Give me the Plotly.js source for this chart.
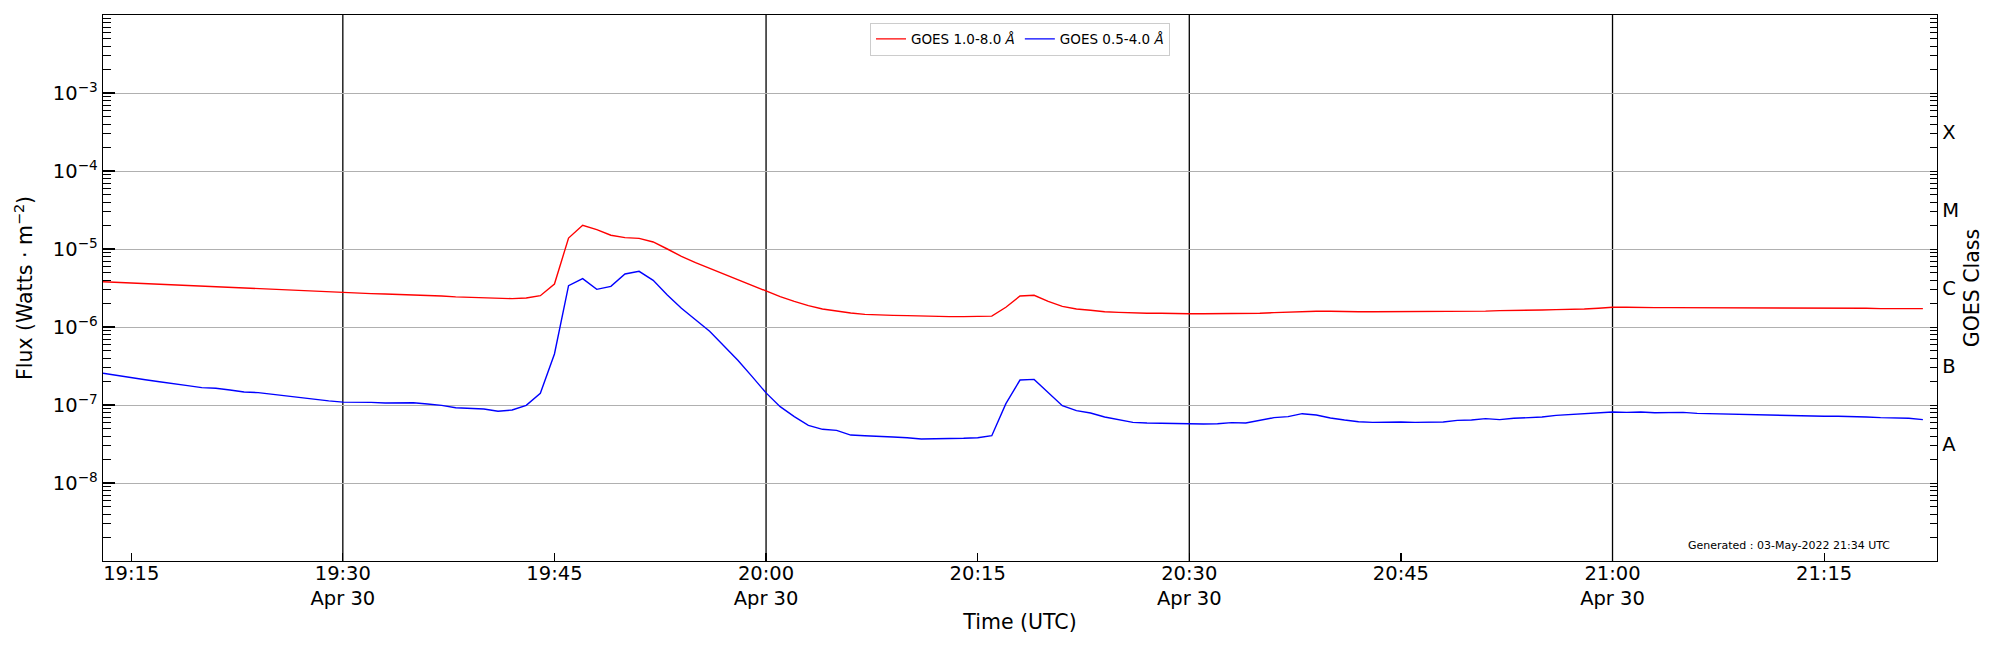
<!DOCTYPE html>
<html>
<head>
<meta charset="utf-8">
<script src="https://cdn.plot.ly/plotly-3.0.1.min.js"></script>
<style>
  html, body { margin: 0; padding: 0; background: #ffffff; }
  #chart { width: 2000px; height: 650px; }
</style>
</head>
<body>
<div id="chart"></div>
<script>
'use strict';

const DAY = '2022-04-30 ';

// 1-minute samples, 19:13 .. 21:22 UTC
const times = [
  '19:13', '19:14', '19:15', '19:16', '19:17', '19:18', '19:19', '19:20', '19:21', '19:22',
  '19:23', '19:24', '19:25', '19:26', '19:27', '19:28', '19:29', '19:30', '19:31', '19:32',
  '19:33', '19:34', '19:35', '19:36', '19:37', '19:38', '19:39', '19:40', '19:41', '19:42',
  '19:43', '19:44', '19:45', '19:46', '19:47', '19:48', '19:49', '19:50', '19:51', '19:52',
  '19:53', '19:54', '19:55', '19:56', '19:57', '19:58', '19:59', '20:00', '20:01', '20:02',
  '20:03', '20:04', '20:05', '20:06', '20:07', '20:08', '20:09', '20:10', '20:11', '20:12',
  '20:13', '20:14', '20:15', '20:16', '20:17', '20:18', '20:19', '20:20', '20:21', '20:22',
  '20:23', '20:24', '20:25', '20:26', '20:27', '20:28', '20:29', '20:30', '20:31', '20:32',
  '20:33', '20:34', '20:35', '20:36', '20:37', '20:38', '20:39', '20:40', '20:41', '20:42',
  '20:43', '20:44', '20:45', '20:46', '20:47', '20:48', '20:49', '20:50', '20:51', '20:52',
  '20:53', '20:54', '20:55', '20:56', '20:57', '20:58', '20:59', '21:00', '21:01', '21:02',
  '21:03', '21:04', '21:05', '21:06', '21:07', '21:08', '21:09', '21:10', '21:11', '21:12',
  '21:13', '21:14', '21:15', '21:16', '21:17', '21:18', '21:19', '21:20', '21:21', '21:22'
];

// GOES 1.0-8.0 A channel (W m^-2)
const fluxLong = [
  3.81e-6, 3.74e-6, 3.67e-6, 3.59e-6, 3.52e-6, 3.46e-6, 3.39e-6, 3.32e-6, 3.26e-6, 3.19e-6,
  3.13e-6, 3.07e-6, 3.01e-6, 2.95e-6, 2.89e-6, 2.84e-6, 2.78e-6, 2.73e-6, 2.70e-6, 2.68e-6,
  2.65e-6, 2.62e-6, 2.60e-6, 2.55e-6, 2.50e-6, 2.43e-6, 2.40e-6, 2.35e-6, 2.31e-6, 2.31e-6,
  2.35e-6, 2.52e-6, 3.56e-6, 1.38e-5, 2.01e-5, 1.77e-5, 1.50e-5, 1.40e-5, 1.37e-5, 1.23e-5,
  1.00e-5, 8.05e-6, 6.68e-6, 5.65e-6, 4.73e-6, 3.97e-6, 3.35e-6, 2.84e-6, 2.45e-6, 2.13e-6,
  1.88e-6, 1.70e-6, 1.59e-6, 1.51e-6, 1.45e-6, 1.42e-6, 1.41e-6, 1.40e-6, 1.38e-6, 1.37e-6,
  1.36e-6, 1.36e-6, 1.36e-6, 1.38e-6, 1.79e-6, 2.50e-6, 2.55e-6, 2.13e-6, 1.84e-6, 1.70e-6,
  1.64e-6, 1.57e-6, 1.54e-6, 1.51e-6, 1.50e-6, 1.50e-6, 1.48e-6, 1.48e-6, 1.48e-6, 1.48e-6,
  1.48e-6, 1.48e-6, 1.50e-6, 1.53e-6, 1.56e-6, 1.59e-6, 1.59e-6, 1.59e-6, 1.57e-6, 1.57e-6,
  1.57e-6, 1.57e-6, 1.57e-6, 1.57e-6, 1.57e-6, 1.57e-6, 1.59e-6, 1.60e-6, 1.60e-6, 1.62e-6,
  1.62e-6, 1.64e-6, 1.65e-6, 1.67e-6, 1.68e-6, 1.70e-6, 1.74e-6, 1.79e-6, 1.79e-6, 1.77e-6,
  1.77e-6, 1.77e-6, 1.77e-6, 1.77e-6, 1.75e-6, 1.75e-6, 1.75e-6, 1.75e-6, 1.75e-6, 1.75e-6,
  1.75e-6, 1.74e-6, 1.74e-6, 1.74e-6, 1.74e-6, 1.74e-6, 1.72e-6, 1.72e-6, 1.72e-6, 1.72e-6
];

// GOES 0.5-4.0 A channel (W m^-2)
const fluxShort = [
  2.55e-7, 2.38e-7, 2.24e-7, 2.11e-7, 1.99e-7, 1.86e-7, 1.77e-7, 1.67e-7, 1.64e-7, 1.56e-7,
  1.47e-7, 1.44e-7, 1.37e-7, 1.29e-7, 1.23e-7, 1.18e-7, 1.13e-7, 1.09e-7, 1.09e-7, 1.08e-7,
  1.06e-7, 1.06e-7, 1.07e-7, 1.03e-7, 9.90e-8, 9.24e-8, 9.06e-8, 8.89e-8, 8.30e-8, 8.63e-8,
  9.90e-8, 1.41e-7, 4.51e-7, 3.39e-6, 4.17e-6, 3.04e-6, 3.32e-6, 4.78e-6, 5.17e-6, 3.97e-6,
  2.57e-6, 1.74e-6, 1.24e-6, 8.80e-7, 5.76e-7, 3.74e-7, 2.33e-7, 1.43e-7, 9.52e-8, 7.09e-8,
  5.49e-8, 4.88e-8, 4.73e-8, 4.12e-8, 4.04e-8, 3.93e-8, 3.89e-8, 3.81e-8, 3.67e-8, 3.70e-8,
  3.70e-8, 3.74e-8, 3.81e-8, 4.04e-8, 1.04e-7, 2.09e-7, 2.13e-7, 1.45e-7, 9.80e-8, 8.46e-8,
  7.90e-8, 7.02e-8, 6.42e-8, 5.99e-8, 5.88e-8, 5.82e-8, 5.76e-8, 5.71e-8, 5.71e-8, 5.76e-8,
  5.94e-8, 5.88e-8, 6.42e-8, 6.88e-8, 7.09e-8, 7.74e-8, 7.44e-8, 6.81e-8, 6.42e-8, 6.11e-8,
  5.99e-8, 6.05e-8, 6.05e-8, 5.99e-8, 6.05e-8, 6.05e-8, 6.36e-8, 6.42e-8, 6.68e-8, 6.49e-8,
  6.75e-8, 6.88e-8, 7.02e-8, 7.37e-8, 7.52e-8, 7.74e-8, 7.97e-8, 8.13e-8, 8.05e-8, 8.13e-8,
  7.97e-8, 8.05e-8, 8.05e-8, 7.82e-8, 7.74e-8, 7.59e-8, 7.52e-8, 7.52e-8, 7.44e-8, 7.37e-8,
  7.23e-8, 7.16e-8, 7.16e-8, 7.16e-8, 7.16e-8, 7.02e-8, 6.88e-8, 6.81e-8, 6.75e-8, 6.49e-8
];

const hourMarks = ['19:30', '20:00', '20:30', '21:00'];

const xTickTimes = ['19:15', '19:30', '19:45', '20:00', '20:15', '20:30', '20:45', '21:00', '21:15'];
const xTickText = [
  '19:15', '19:30<br>Apr 30', '19:45', '20:00<br>Apr 30', '20:15',
  '20:30<br>Apr 30', '20:45', '21:00<br>Apr 30', '21:15'
];

const fluxDecades = [1e-8, 1e-7, 1e-6, 1e-5, 1e-4, 1e-3];
const fluxTickText = [
  '10<sup>\u22128</sup>', '10<sup>\u22127</sup>', '10<sup>\u22126</sup>',
  '10<sup>\u22125</sup>', '10<sup>\u22124</sup>', '10<sup>\u22123</sup>'
];

const classLabels = ['A', 'B', 'C', 'M', 'X'];
const classCenters = [
  Math.pow(10, -7.5), Math.pow(10, -6.5), Math.pow(10, -5.5),
  Math.pow(10, -4.5), Math.pow(10, -3.5)
];

const generatedText = 'Generated : 03-May-2022 21:34 UTC';

// log minor tick positions (2..9 x each decade), axis decoration only
function minorLogTicks(lo, hi) {
  const out = [];
  for (let e = lo; e < hi; e++) {
    for (let k = 2; k <= 9; k++) out.push(k * Math.pow(10, e));
  }
  return out;
}

const FONT = 'DejaVu Sans, Liberation Sans, sans-serif';
const TICK_SIZE = 19.5;
const TITLE_SIZE = 20.5;
const Y_RANGE = [-9, -2];
const minorTicks = minorLogTicks(-9, -2);
const x = times.map(t => DAY + t);

const traces = [
  {
    x: x,
    y: fluxLong,
    type: 'scatter',
    mode: 'lines',
    name: 'GOES 1.0-8.0 <i>\u00c5</i>',
    line: { color: '#ff0000', width: 1.4 },
    hoverinfo: 'skip'
  },
  {
    x: x,
    y: fluxShort,
    type: 'scatter',
    mode: 'lines',
    name: 'GOES 0.5-4.0 <i>\u00c5</i>',
    line: { color: '#0000ff', width: 1.4 },
    hoverinfo: 'skip'
  },
  {
    // keeps the right-hand class axis alive
    x: x,
    y: fluxLong,
    yaxis: 'y2',
    type: 'scatter',
    mode: 'lines',
    line: { color: 'rgba(0,0,0,0)', width: 0 },
    showlegend: false,
    hoverinfo: 'skip'
  }
];

const shapes = hourMarks.map(t => ({
  type: 'line',
  xref: 'x',
  yref: 'paper',
  x0: DAY + t,
  x1: DAY + t,
  y0: 0,
  y1: 1,
  line: { color: '#000000', width: 1.3 },
  layer: 'below'
}));

const layout = {
  width: 2000,
  height: 650,
  margin: { l: 103, r: 63, t: 15, b: 89 },
  paper_bgcolor: '#ffffff',
  plot_bgcolor: '#ffffff',
  font: { family: FONT, size: TICK_SIZE, color: '#000000' },
  showlegend: true,
  legend: {
    orientation: 'h',
    x: 0.5,
    xanchor: 'center',
    y: 0.986,
    yanchor: 'top',
    bgcolor: 'rgba(255,255,255,0.8)',
    bordercolor: '#cccccc',
    borderwidth: 1,
    font: { family: FONT, size: 13.5, color: '#000000' }
  },
  xaxis: {
    type: 'date',
    range: [DAY + '19:13:00', DAY + '21:23:00'],
    tickmode: 'array',
    tickvals: xTickTimes.map(t => DAY + t),
    ticktext: xTickText,
    ticks: 'inside',
    ticklen: 8,
    tickwidth: 1.2,
    tickcolor: '#000000',
    ticklabelstandoff: -6,
    showline: true,
    mirror: true,
    linecolor: '#000000',
    linewidth: 1.3,
    showgrid: false,
    zeroline: false,
    tickfont: { family: FONT, size: TICK_SIZE, color: '#000000' },
    title: { text: 'Time (UTC)', font: { family: FONT, size: TITLE_SIZE, color: '#000000' }, standoff: 5 },
    automargin: false
  },
  yaxis: {
    type: 'log',
    range: Y_RANGE,
    tickmode: 'array',
    tickvals: fluxDecades,
    ticktext: fluxTickText,
    ticks: 'inside',
    ticklen: 12,
    tickwidth: 1.2,
    tickcolor: '#000000',
    minor: {
      tickmode: 'array',
      tickvals: minorTicks,
      ticks: 'inside',
      ticklen: 8,
      tickwidth: 1,
      tickcolor: '#000000',
      showgrid: false
    },
    showline: true,
    mirror: false,
    linecolor: '#000000',
    linewidth: 1.3,
    showgrid: true,
    gridcolor: '#b0b0b0',
    gridwidth: 1,
    zeroline: false,
    tickfont: { family: FONT, size: TICK_SIZE, color: '#000000' },
    title: { text: 'Flux (Watts \u00b7 m<sup>\u22122</sup>)', font: { family: FONT, size: TITLE_SIZE, color: '#000000' }, standoff: 14 },
    automargin: false
  },
  yaxis2: {
    type: 'log',
    range: Y_RANGE,
    overlaying: 'y',
    side: 'right',
    tickmode: 'array',
    tickvals: classCenters,
    ticktext: classLabels,
    ticks: '',
    minor: {
      tickmode: 'array',
      tickvals: minorTicks.concat(fluxDecades),
      ticks: 'inside',
      ticklen: 7,
      tickwidth: 1,
      tickcolor: '#000000',
      showgrid: false
    },
    showline: true,
    linecolor: '#000000',
    linewidth: 1.3,
    showgrid: false,
    zeroline: false,
    tickfont: { family: FONT, size: TICK_SIZE, color: '#000000' },
    title: { text: 'GOES Class', font: { family: FONT, size: TITLE_SIZE, color: '#000000' }, standoff: 6 },
    automargin: false
  },
  shapes: shapes,
  annotations: [
    {
      text: generatedText,
      xref: 'paper',
      yref: 'paper',
      x: 0.9755,
      y: 0.029,
      xanchor: 'right',
      yanchor: 'middle',
      showarrow: false,
      font: { family: FONT, size: 11, color: '#000000' }
    }
  ]
};

Plotly.newPlot('chart', traces, layout, { displayModeBar: false, staticPlot: true });
</script>
</body>
</html>
